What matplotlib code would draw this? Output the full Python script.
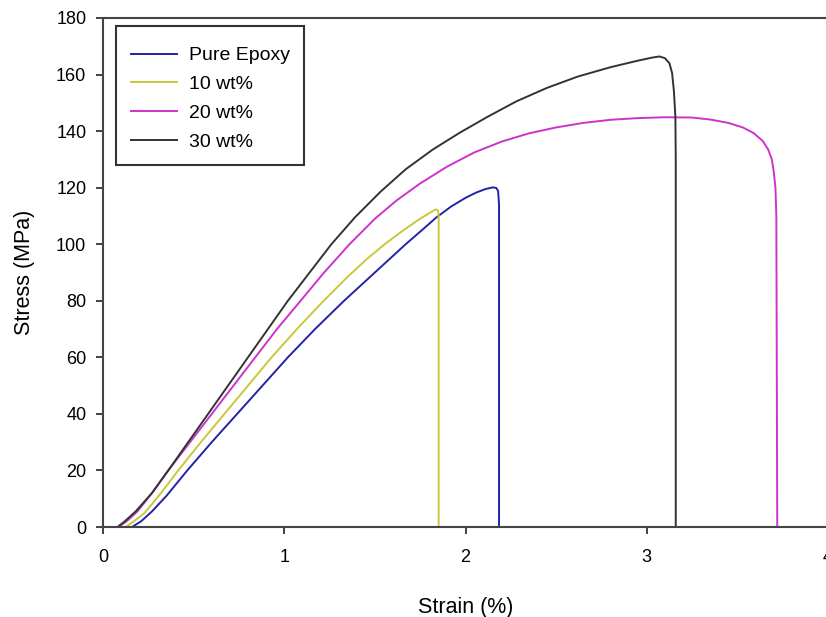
import matplotlib
matplotlib.use('Agg')
import matplotlib.pyplot as plt
from matplotlib.patches import Rectangle

plt.rcParams['font.family'] = ['Liberation Sans', 'DejaVu Sans']

# stress-strain curves
epoxy_x = [0.16, 0.21, 0.27, 0.35, 0.465, 0.60, 0.74, 0.88, 1.02, 1.17, 1.33, 1.50,
           1.67, 1.76, 1.84, 1.92, 2.00, 2.06, 2.11, 2.15, 2.17, 2.18, 2.185, 2.185]
epoxy_y = [0, 2, 5.5, 11, 20, 30, 40, 50, 60, 70, 80, 90,
           100, 105, 109.5, 113.3, 116.4, 118.3, 119.5, 120.1, 119.9, 118.8, 114, 0]

wt10_x = [0.125, 0.17, 0.23, 0.32, 0.415, 0.54, 0.67, 0.80, 0.93, 1.07, 1.21, 1.35,
          1.46, 1.56, 1.65, 1.74, 1.80, 1.835, 1.848, 1.852, 1.852]
wt10_y = [0, 2, 5, 12, 20, 30, 40, 50, 60, 70, 79.5, 88.5,
          95, 100.3, 104.6, 108.6, 111, 112.3, 112, 110, 0]

wt20_x = [0.085, 0.13, 0.19, 0.27, 0.36, 0.48, 0.60, 0.72, 0.84, 0.96, 1.09, 1.22,
          1.36, 1.50, 1.62, 1.75, 1.90, 2.05, 2.20, 2.35, 2.50, 2.65, 2.80, 2.95,
          3.10, 3.25, 3.35, 3.45, 3.53, 3.59, 3.64, 3.67, 3.69, 3.70, 3.71, 3.715, 3.72]
wt20_y = [0, 2, 5.5, 12, 20, 30, 40, 50, 60, 70, 80, 90,
          100, 109, 115.5, 121.5, 127.5, 132.5, 136.3, 139.2, 141.3, 142.9, 144, 144.6,
          144.9, 144.8, 144.1, 142.9, 141.3, 139.3, 136.5, 133.5, 130, 126, 120, 110, 0]

wt30_x = [0.08, 0.12, 0.18, 0.27, 0.36, 0.47, 0.58, 0.69, 0.80, 0.91, 1.02, 1.14,
          1.26, 1.39, 1.53, 1.67, 1.82, 1.97, 2.12, 2.28, 2.45, 2.62, 2.80, 2.95,
          3.03, 3.07, 3.10, 3.125, 3.14, 3.15, 3.158, 3.16, 3.16]
wt30_y = [0, 2, 5.5, 12, 20, 30, 40, 50, 60, 70, 80, 90,
          100, 109.5, 118.5, 126.5, 133.5, 139.5, 145, 150.5, 155.3, 159.3, 162.6, 164.9,
          166.0, 166.4, 165.8, 164, 160.5, 154, 145, 130, 0]

labels = ['Pure Epoxy', '10 wt%', '20 wt%', '30 wt%']
colors = ['#2323a8', '#c8c83c', '#cc33cc', '#333333']

fig = plt.figure(figsize=(8.26, 6.17), dpi=100)
ax = fig.add_axes([103 / 826, 90 / 617, 725 / 826, 509 / 617])

series = [(epoxy_x, epoxy_y), (wt10_x, wt10_y), (wt20_x, wt20_y), (wt30_x, wt30_y)]
for (xs, ys), lab, c in zip(series, labels, colors):
    ax.plot(xs, ys, color=c, lw=1.4, label=lab, solid_joinstyle='round')

ax.set_xlim(0, 4)
ax.set_ylim(0, 180)
ax.set_xticks([0, 1, 2, 3, 4])
ax.set_yticks(range(0, 181, 20))
ax.tick_params(direction='out', length=5, width=1.3, labelsize=13, color='#333333')
ax.tick_params(axis='x', pad=11)
ax.tick_params(axis='y', pad=7)
for s in ax.spines.values():
    s.set_linewidth(1.5)
    s.set_color('#444444')

ax.set_xlabel('Strain (%)', fontsize=15.5, labelpad=22)
ax.set_ylabel('Stress (MPa)', fontsize=15.5, labelpad=15)

# legend box drawn separately so it can be taller than the entries need
ax.add_patch(Rectangle((0.018, 0.711), 0.259, 0.273, transform=ax.transAxes,
                       fill=False, edgecolor='#333333', lw=1.5, zorder=5))
ax.legend(loc='upper left', bbox_to_anchor=(0.018, 0.972), borderaxespad=0,
          fontsize=14, frameon=False, handlelength=2.4,
          handletextpad=0.6, labelspacing=0.57, borderpad=0.75)

fig.savefig('out.png', dpi=100)
